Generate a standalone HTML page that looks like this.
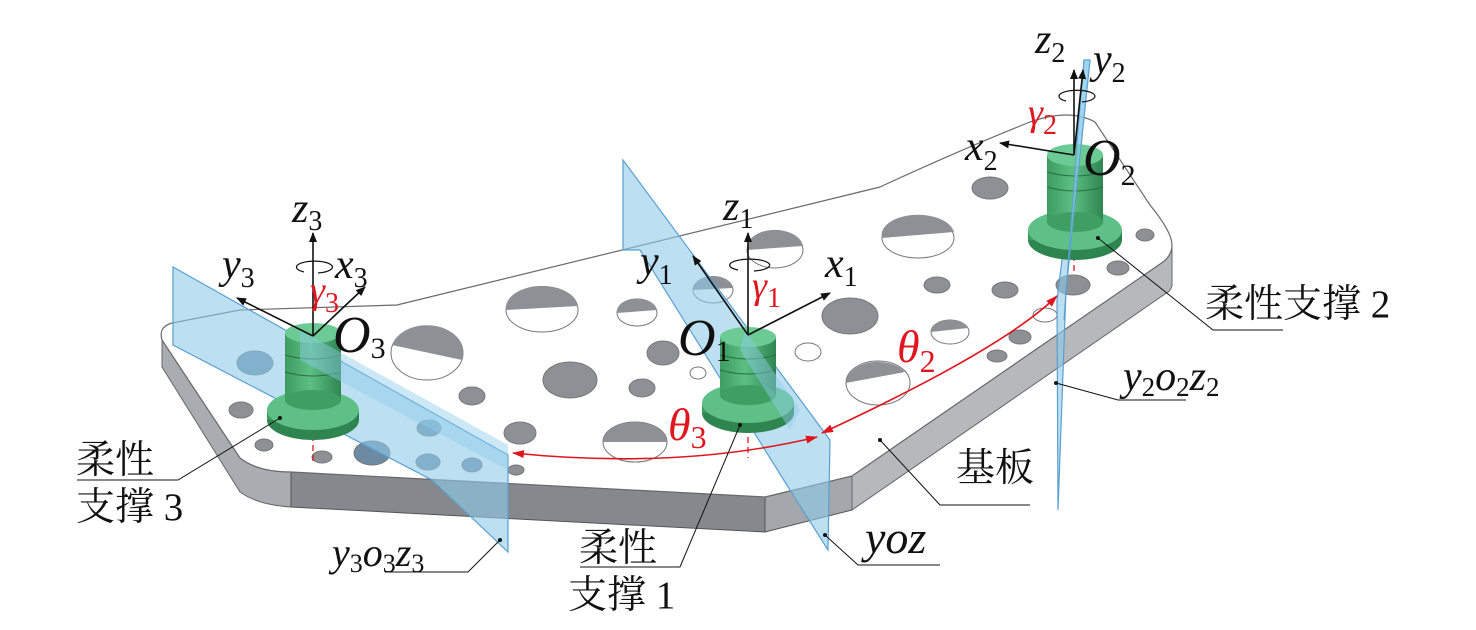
<!DOCTYPE html>
<html><head><meta charset="utf-8">
<style>
html,body{margin:0;padding:0;background:#fff;}
svg{display:block;}
.it{font-family:"Liberation Serif","Times New Roman",serif;font-style:italic;fill:#111;}
.sb{font-family:"Liberation Serif","Times New Roman",serif;font-style:normal;fill:#111;}
.r{fill:#e0161e;}
.cn{font-family:"Liberation Serif","Noto Serif CJK SC",serif;fill:#111;}
</style></head><body>
<svg width="1476" height="630" viewBox="0 0 1476 630" xmlns="http://www.w3.org/2000/svg">
<defs>
<marker id="ah" markerWidth="10" markerHeight="8" refX="9" refY="4" orient="auto" markerUnits="userSpaceOnUse"><path d="M0,0 L10,4 L0,8 z" fill="#111"/></marker>
<marker id="ar" markerWidth="12" markerHeight="8" refX="11" refY="4" orient="auto" markerUnits="userSpaceOnUse"><path d="M0,0 L12,4 L0,8 z" fill="#e0161e"/></marker>
<marker id="ars" markerWidth="12" markerHeight="8" refX="1" refY="4" orient="auto" markerUnits="userSpaceOnUse"><path d="M12,0 L0,4 L12,8 z" fill="#e0161e"/></marker>
<linearGradient id="gb" x1="0" x2="1" y1="0" y2="0">
<stop offset="0" stop-color="#3d9c60"/><stop offset="0.45" stop-color="#5cbf83"/><stop offset="1" stop-color="#2f8550"/></linearGradient>
<linearGradient id="gf" x1="0" x2="1" y1="0" y2="0">
<stop offset="0" stop-color="#3a9a5e"/><stop offset="0.5" stop-color="#56b87c"/><stop offset="1" stop-color="#2c7e4c"/></linearGradient>
</defs>

<path d="M162,340 L240,458 Q258,472 291,472 L291,507 Q258,505 240,492 L162,367 Z" fill="#a9acb0" stroke="#666" stroke-width="1"/>
<path d="M291,472 L765,497 L765,532 L291,507 Z" fill="#85898e" stroke="#555" stroke-width="1"/>
<path d="M765,497 L852,476 L852,510 L765,532 Z" fill="#a4a7ab" stroke="#555" stroke-width="1"/>
<path d="M852,476 L1163,262 Q1172,255 1172,245 L1172,286 Q1170,292 1165,294 L852,510 Z" fill="#b6b9bc" stroke="#666" stroke-width="1"/>

<path d="M162,340 Q158,327 172,323 L240,310 L397,305 L880,187 Q960,150 1030,122 Q1070,108 1095,122 L1150,205 Q1172,232 1172,245 Q1172,255 1163,262 L852,476 L765,497 L291,472 Q258,472 240,458 Z" fill="#fff" stroke="#6a6a6a" stroke-width="1.2"/>

<g stroke="#777" stroke-width="1">
<g fill="#8d9095">
<ellipse cx="990" cy="188" rx="18" ry="11"/>
<ellipse cx="937" cy="285" rx="13" ry="8"/>
<ellipse cx="1005" cy="290" rx="13" ry="8"/>
<ellipse cx="1020" cy="337" rx="11" ry="7"/>
<ellipse cx="997" cy="356" rx="10" ry="6"/>
<ellipse cx="1145" cy="235" rx="9" ry="6"/>
<ellipse cx="1118" cy="268" rx="11" ry="7"/>
<ellipse cx="570" cy="380" rx="27" ry="18"/>
<ellipse cx="663" cy="353" rx="16" ry="12"/>
<ellipse cx="472" cy="396" rx="13" ry="9"/>
<ellipse cx="642" cy="388" rx="13" ry="9"/>
<ellipse cx="520" cy="433" rx="16" ry="11"/>
<ellipse cx="516" cy="470" rx="8" ry="5"/>
<ellipse cx="241" cy="410" rx="12" ry="8"/>
<ellipse cx="264" cy="445" rx="9" ry="6"/>
<ellipse cx="322" cy="457" rx="10" ry="6"/>
<ellipse cx="850" cy="316" rx="28" ry="18"/>
<ellipse cx="1073" cy="285" rx="17" ry="10"/>
</g>
<g fill="#6c8aa2">
<ellipse cx="255" cy="363" rx="18" ry="12"/>
<ellipse cx="372" cy="453" rx="18" ry="12"/>
<ellipse cx="429" cy="428" rx="12" ry="8"/>
<ellipse cx="428" cy="462" rx="12" ry="8"/>
<ellipse cx="472" cy="465" rx="10" ry="7"/>
</g>
<g fill="#fff">
<ellipse cx="542" cy="310" rx="36" ry="22"/>
<ellipse cx="427" cy="353" rx="36" ry="27"/>
<ellipse cx="637" cy="313" rx="20" ry="13"/>
<ellipse cx="713" cy="290" rx="20" ry="13"/>
<ellipse cx="918" cy="238" rx="36" ry="20"/>
<ellipse cx="878" cy="383" rx="32" ry="22"/>
<ellipse cx="950" cy="332" rx="19" ry="12"/>
<ellipse cx="1045" cy="315" rx="12" ry="7"/>
<ellipse cx="635" cy="442" rx="32" ry="20"/>
<ellipse cx="775" cy="250" rx="28" ry="18"/>
<ellipse cx="698" cy="373" rx="8" ry="6"/>
<ellipse cx="808" cy="352" rx="13" ry="9"/>
</g>
</g>
<g fill="#8d9095">
<path d="M506,310 A36,22 0 0 1 578,306 Z"/>
<path d="M392,345 A36,27 0 0 1 462,360 Z"/>
<path d="M882,238 A36,20 0 0 1 954,232 Z"/>
<path d="M846,383 A32,22 0 0 1 905,372 Z"/>
<path d="M931,332 A19,12 0 0 1 968,328 Z"/>
<path d="M603,442 A32,20 0 0 1 667,442 Z"/>
<path d="M747,250 A28,18 0 0 1 803,246 Z"/>
<path d="M617,313 A20,13 0 0 1 657,310 Z"/>
<path d="M693,290 A20,13 0 0 1 733,288 Z"/>
</g>

<g fill="#8fcbea" fill-opacity="0.6" stroke="#5a9fd2" stroke-width="1.2">
<path d="M173,267 L508,455 L508,552 L432,480 L173,345 Z"/>
<path d="M623,160 L830,440 L828,550 L790,490 L640,250 L623,250 Z"/>
<path d="M1084,60 L1090,60 L1066,290 L1058,510 L1057,300 L1078,130 Z"/>
</g>

<g stroke="#e0161e" stroke-width="1.3" stroke-dasharray="6,4" fill="none">
<line x1="313" y1="335" x2="313" y2="462"/>
<line x1="748" y1="337" x2="748" y2="458"/>
<line x1="1074" y1="155" x2="1074" y2="272"/>
</g>

<ellipse cx="313" cy="420" rx="46" ry="20" fill="#2f8550"/>
<rect x="267" y="410" width="92" height="10" fill="url(#gf)"/>
<ellipse cx="313" cy="410" rx="46" ry="20" fill="#5fc087"/>
<rect x="285" y="333" width="56" height="67" fill="url(#gb)"/>
<ellipse cx="313" cy="400" rx="28" ry="10" fill="#3f9f63"/>
<ellipse cx="313" cy="333" rx="28" ry="10" fill="#6ccb95"/>
<path d="M285,355 Q313,363 341,355 M285,372 Q313,380 341,372" stroke="#2a6e44" stroke-width="1" fill="none"/>
<ellipse cx="748" cy="413" rx="46" ry="20" fill="#2f8550"/>
<rect x="702" y="403" width="92" height="10" fill="url(#gf)"/>
<ellipse cx="748" cy="403" rx="46" ry="20" fill="#5fc087"/>
<rect x="720" y="337" width="56" height="58" fill="url(#gb)"/>
<ellipse cx="748" cy="395" rx="28" ry="10" fill="#3f9f63"/>
<ellipse cx="748" cy="337" rx="28" ry="10" fill="#6ccb95"/>
<path d="M720,355 Q748,363 776,355 M720,370 Q748,378 776,370" stroke="#2a6e44" stroke-width="1" fill="none"/>
<ellipse cx="1075" cy="240" rx="47" ry="20" fill="#2f8550"/>
<rect x="1028" y="230" width="94" height="10" fill="url(#gf)"/>
<ellipse cx="1075" cy="230" rx="47" ry="20" fill="#5fc087"/>
<rect x="1047" y="155" width="56" height="67" fill="url(#gb)"/>
<ellipse cx="1075" cy="222" rx="28" ry="10" fill="#3f9f63"/>
<ellipse cx="1075" cy="155" rx="28" ry="11" fill="#6ccb95"/>
<path d="M1047,172 Q1075,180 1103,172 M1047,187 Q1075,195 1103,187" stroke="#2a6e44" stroke-width="1" fill="none"/>

<g fill="#8fcbea" fill-opacity="0.45">
<path d="M300,330 L508,445 L508,470 L300,360 Z"/>
<path d="M745,330 L800,410 L790,430 L740,350 Z"/>
</g>
<path d="M1078,130 L1084,60 L1090,60 L1066,290 L1064,320 Z" fill="#8fcbea" fill-opacity="0.6" stroke="#5a9fd2" stroke-width="1"/>

<g stroke="#111" stroke-width="1.6" fill="none" marker-end="url(#ah)">
<line x1="313" y1="336" x2="313" y2="233"/>
<line x1="313" y1="336" x2="237" y2="298"/>
<line x1="313" y1="336" x2="365" y2="287"/>
<line x1="748" y1="335" x2="748" y2="233"/>
<line x1="748" y1="335" x2="693" y2="256"/>
<line x1="748" y1="335" x2="830" y2="293"/>
<line x1="1074" y1="155" x2="1074" y2="70"/>
<line x1="1074" y1="155" x2="1083" y2="70"/>
<line x1="1074" y1="155" x2="1000" y2="143"/>
</g>
<g stroke="#111" stroke-width="1.2" fill="none">
<path d="M304,272 A18,6 0 1 1 318,273"/>
<path d="M738,270 A20,6 0 1 1 754,271"/>
<path d="M1066,101 A18,6 0 1 1 1082,102"/>
</g>

<g stroke="#e0161e" stroke-width="1.6" fill="none">
<path d="M513,453 Q680,470 817,437" marker-start="url(#ars)" marker-end="url(#ar)"/>
<path d="M822,433 Q1003,349 1057,296" marker-start="url(#ars)" marker-end="url(#ar)"/>
</g>

<g stroke="#111" stroke-width="1" fill="none">
<polyline points="280,418 178,480 77,480"/>
<polyline points="740,425 680,567 580,567"/>
<polyline points="1098,238 1213,330 1283,330"/>
<polyline points="1056,383 1118,400 1186,400"/>
<polyline points="880,440 940,505 1030,505"/>
<polyline points="825,535 858,565 940,565"/>
<polyline points="500,540 468,572 385,572"/>
</g>
<g fill="#111">
<circle cx="280" cy="418" r="2"/><circle cx="740" cy="425" r="2"/><circle cx="1098" cy="238" r="2"/>
<circle cx="1056" cy="383" r="2"/><circle cx="880" cy="440" r="2"/><circle cx="825" cy="535" r="2"/><circle cx="500" cy="540" r="2"/>
</g>

<text x="292" y="222"><tspan class="it" font-size="42">z</tspan><tspan class="sb" font-size="28" dy="8">3</tspan></text>
<text x="222" y="278"><tspan class="it" font-size="42">y</tspan><tspan class="sb" font-size="28" dy="9">3</tspan></text>
<text x="335" y="278"><tspan class="it" font-size="42">x</tspan><tspan class="sb" font-size="28" dy="9">3</tspan></text>
<text x="310" y="303"><tspan class="it r" font-size="38">γ</tspan><tspan class="sb r" font-size="28" dy="9">3</tspan></text>
<text x="333" y="352"><tspan class="it" font-size="52">O</tspan><tspan class="sb" font-size="30" dy="6">3</tspan></text>

<text x="723" y="220"><tspan class="it" font-size="42">z</tspan><tspan class="sb" font-size="28" dy="8">1</tspan></text>
<text x="640" y="275"><tspan class="it" font-size="42">y</tspan><tspan class="sb" font-size="28" dy="9">1</tspan></text>
<text x="825" y="277"><tspan class="it" font-size="42">x</tspan><tspan class="sb" font-size="28" dy="9">1</tspan></text>
<text x="752" y="298"><tspan class="it r" font-size="38">γ</tspan><tspan class="sb r" font-size="28" dy="9">1</tspan></text>
<text x="678" y="355"><tspan class="it" font-size="52">O</tspan><tspan class="sb" font-size="30" dy="6">1</tspan></text>

<text x="1035" y="53"><tspan class="it" font-size="42">z</tspan><tspan class="sb" font-size="28" dy="9">2</tspan></text>
<text x="1093" y="73"><tspan class="it" font-size="42">y</tspan><tspan class="sb" font-size="28" dy="9">2</tspan></text>
<text x="1028" y="125"><tspan class="it r" font-size="38">γ</tspan><tspan class="sb r" font-size="28" dy="9">2</tspan></text>
<text x="965" y="160"><tspan class="it" font-size="42">x</tspan><tspan class="sb" font-size="28" dy="10">2</tspan></text>
<text x="1083" y="175"><tspan class="it" font-size="52">O</tspan><tspan class="sb" font-size="30" dy="10">2</tspan></text>

<text x="668" y="440"><tspan class="it r" font-size="46">θ</tspan><tspan class="sb r" font-size="32" dy="8">3</tspan></text>
<text x="897" y="362"><tspan class="it r" font-size="46">θ</tspan><tspan class="sb r" font-size="32" dy="10">2</tspan></text>

<text x="332" y="566"><tspan class="it" font-size="40">y</tspan><tspan class="sb" font-size="26" dy="6">3</tspan><tspan class="it" font-size="40" dy="-6">o</tspan><tspan class="sb" font-size="26" dy="6">3</tspan><tspan class="it" font-size="40" dy="-6">z</tspan><tspan class="sb" font-size="26" dy="6">3</tspan></text>
<text x="1123" y="390"><tspan class="it" font-size="42">y</tspan><tspan class="sb" font-size="27" dy="6">2</tspan><tspan class="it" font-size="42" dy="-6">o</tspan><tspan class="sb" font-size="27" dy="6">2</tspan><tspan class="it" font-size="42" dy="-6">z</tspan><tspan class="sb" font-size="27" dy="6">2</tspan></text>
<text class="it" x="865" y="553" font-size="46">yoz</text>

<text class="cn" x="76" y="473" font-size="39">柔性</text>
<text class="cn" x="76" y="520" font-size="39">支撑 3</text>
<text class="cn" x="579" y="561" font-size="39">柔性</text>
<text class="cn" x="568" y="608" font-size="39">支撑 1</text>
<text class="cn" x="1205" y="317" font-size="39">柔性支撑 2</text>
<text class="cn" x="956" y="481" font-size="39">基板</text>
</svg>
</body></html>
